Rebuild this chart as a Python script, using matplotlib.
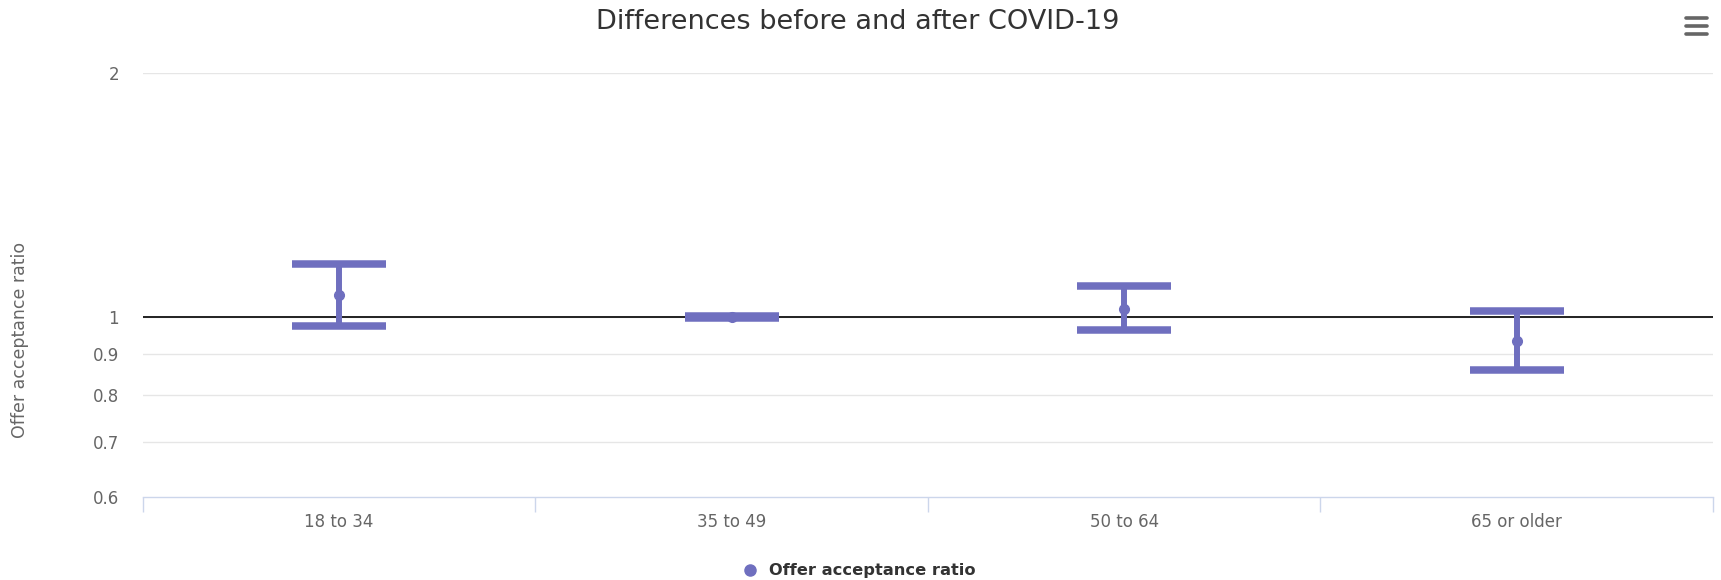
import matplotlib
matplotlib.use("Agg")
import matplotlib.pyplot as plt
from matplotlib.lines import Line2D
from matplotlib.ticker import FixedLocator, NullLocator

CATEGORIES = ["18 to 34", "35 to 49", "50 to 64", "65 or older"]
RATIO = [1.063, 1.0, 1.023, 0.934]
LOWER = [0.975, 0.997, 0.962, 0.860]
UPPER = [1.161, 1.003, 1.091, 1.016]
Y_TICKS = [0.6, 0.7, 0.8, 0.9, 1, 2]
Y_TICK_LABELS = ["0.6", "0.7", "0.8", "0.9", "1", "2"]

BAR_COLOUR = "#6f6fbf"
GRID_COLOUR = "#e6e6e6"
AXIS_COLOUR = "#ccd6eb"
LABEL_COLOUR = "#666666"
TITLE_COLOUR = "#333333"

plt.rcParams["font.family"] = ["DejaVu Sans"]

fig = plt.figure(figsize=(17.21, 5.8), dpi=100)
ax = fig.add_axes([0.0829, 0.1436, 0.9125, 0.7314])

xs = list(range(len(CATEGORIES)))
yerr = [
    [r - lo for r, lo in zip(RATIO, LOWER)],
    [hi - r for r, hi in zip(RATIO, UPPER)],
]

ax.set_yscale("log")
ax.set_ylim(0.6, 2)
ax.set_xlim(-0.5, len(CATEGORIES) - 0.5)

# grid lines
for t in Y_TICKS[1:]:
    ax.axhline(t, color=GRID_COLOUR, lw=1, zorder=0)
# reference line at 1
ax.axhline(1, color="#222222", lw=1.4, zorder=1)

ax.errorbar(
    xs,
    RATIO,
    yerr=yerr,
    fmt="o",
    color=BAR_COLOUR,
    ecolor=BAR_COLOUR,
    markersize=7,
    elinewidth=4.3,
    capsize=34,
    capthick=5.4,
    zorder=3,
)

ax.yaxis.set_major_locator(FixedLocator(Y_TICKS))
ax.yaxis.set_minor_locator(NullLocator())
ax.set_yticklabels(Y_TICK_LABELS)
ax.tick_params(axis="y", length=0, pad=17, labelsize=12, labelcolor=LABEL_COLOUR)

ax.set_xticks(xs)
ax.set_xticklabels(CATEGORIES)
ax.tick_params(axis="x", length=0, pad=12, labelsize=12, labelcolor=LABEL_COLOUR)
ax.set_xticks([x - 0.5 for x in range(len(CATEGORIES) + 1)], minor=True)
ax.tick_params(axis="x", which="minor", length=11, width=1, color=AXIS_COLOUR, direction="out")

for side in ["top", "right", "left"]:
    ax.spines[side].set_visible(False)
ax.spines["bottom"].set_color(AXIS_COLOUR)
ax.spines["bottom"].set_linewidth(1)

fig.text(0.0116, 0.414, "Offer acceptance ratio", rotation=90, ha="center", va="center",
         fontsize=12.5, color=LABEL_COLOUR)

fig.text(0.4985, 0.962, "Differences before and after COVID-19", ha="center", va="center",
         fontsize=19.5, color=TITLE_COLOUR)

# legend
fig.add_artist(Line2D([750 / 1721], [1 - 570 / 580], marker="o", color=BAR_COLOUR,
                      markersize=8, linestyle="none", transform=fig.transFigure))
fig.text(769 / 1721, 1 - 570 / 580, "Offer acceptance ratio", ha="left", va="center",
         fontsize=11.7, fontweight="bold", color=TITLE_COLOUR)

# menu icon
for yy in [18, 26, 34]:
    fig.add_artist(Line2D([1686 / 1721, 1707 / 1721], [1 - yy / 580] * 2, color="#666666",
                          lw=2.6, solid_capstyle="round", transform=fig.transFigure))

fig.savefig("out.png", dpi=100, facecolor="white")
